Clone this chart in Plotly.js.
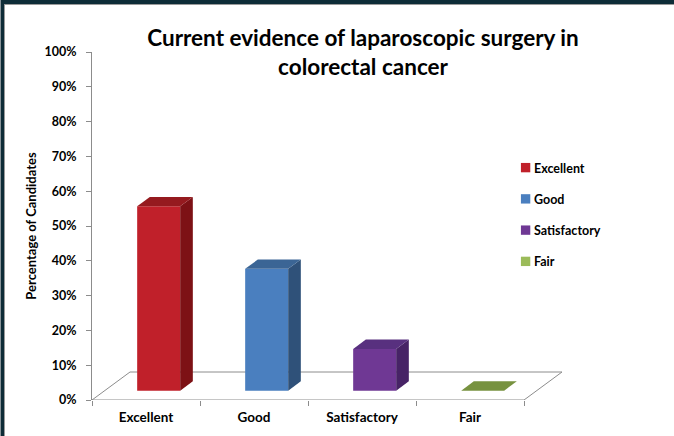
<!DOCTYPE html>
<html>
<head>
<meta charset="utf-8">
<script src="https://cdn.plot.ly/plotly-3.0.1.min.js"></script>
<style>
  html, body { margin: 0; padding: 0; background: #ffffff; }
  #wrap { position: relative; width: 674px; height: 436px; overflow: hidden; }
  #chart { position: absolute; left: 0; top: 0; width: 674px; height: 436px; }
  #bt { position: absolute; left: 0; top: 0; width: 674px; height: 4px; background: #0E2C37; }
  #bt2 { position: absolute; left: 0; top: 4px; width: 674px; height: 1px; background: #9a9a9a; }
  #bl { position: absolute; left: 0; top: 0; width: 1px; height: 436px; background: #8a9499; }
  #bl1 { position: absolute; left: 1px; top: 0; width: 3px; height: 436px; background: #0E2C37; }
  #bl2 { position: absolute; left: 4px; top: 4px; width: 1px; height: 432px; background: #9a9a9a; }
</style>
</head>
<body>
<div id="wrap">
  <div id="chart"></div>
  <div id="bt"></div><div id="bt2"></div>
  <div id="bl"></div><div id="bl1"></div><div id="bl2"></div>
</div>
<script>
// ---- data ----
var categories = ["Excellent", "Good", "Satisfactory", "Fair"];
var values = [53, 35, 12, 0];
var frontColors = ["#C0202A", "#4A7FBF", "#6F3894", "#9BBB59"];
var sideColors  = ["#7D1115", "#2F5179", "#472366", "#5E7530"];
var topColors   = ["#951A1F", "#3B6595", "#58307F", "#77923F"];
var yTickVals = [0, 10, 20, 30, 40, 50, 60, 70, 80, 90, 100];
var yTickText = ["0%", "10%", "20%", "30%", "40%", "50%", "60%", "70%", "80%", "90%", "100%"];

// ---- geometry (oblique 3D projection in data units) ----
var W = 674, H = 436;
var plotL = 92, plotR = 572, plotT = 52, plotB = 400;
var pxPerCat = 108;
var xMin = -0.5;
var xMax = xMin + (plotR - plotL) / pxPerCat;
var pxPerPct = (plotB - plotT) / 100;
var depthDX = 38 / pxPerCat;      // floor depth, x units
var depthDY = 28 / pxPerPct;      // floor depth, y units
var gDX = depthDX / 3, gDY = depthDY / 3;   // bar sits in middle third
var barW = 43 / pxPerCat;
var barOffset = gDX - barW / 2;
var nCat = categories.length;

var traces = [];
var fnt = "Lato, 'Open Sans', Arial, sans-serif";

// category axis labels / ticks (invisible carrier trace)
traces.push({
  type: "scatter", mode: "markers", x: categories, y: [0, 0, 0, 0],
  marker: { opacity: 0 }, hoverinfo: "skip", showlegend: false, xaxis: "x"
});

// front faces as real bars
for (var i = 0; i < nCat; i++) {
  traces.push({
    type: "bar", name: categories[i], x: [i], y: [values[i]], base: [gDY],
    width: barW, offset: barOffset, xaxis: "x2",
    marker: { color: frontColors[i], line: { width: 0 } },
    legendgroup: "g" + i, hoverinfo: "name+y"
  });
}
// side and top faces
for (var i = 0; i < nCat; i++) {
  var x0 = i + barOffset, x1 = x0 + barW;
  var b = gDY, t = gDY + values[i];
  if (values[i] > 0) {
    traces.push({
      type: "scatter", mode: "lines", fill: "toself", xaxis: "x2",
      x: [x1, x1, x1 + gDX, x1 + gDX, x1], y: [b, t, t + gDY, b + gDY, b],
      fillcolor: sideColors[i], line: { width: 0, color: sideColors[i] },
      hoverinfo: "skip", showlegend: false
    });
  }
  traces.push({
    type: "scatter", mode: "lines", fill: "toself", xaxis: "x2",
    x: [x0, x1, x1 + gDX, x0 + gDX, x0], y: [t, t, t + gDY, t + gDY, t],
    fillcolor: topColors[i], line: { width: 0, color: topColors[i] },
    hoverinfo: "skip", showlegend: false
  });
}

// floor outline as shapes beneath the bars
var floorLine = { color: "#8C8C8C", width: 1 };
var shapes = [
  { type: "line", xref: "x2", yref: "y", layer: "below", x0: xMin, y0: 0, x1: xMin + nCat, y1: 0, line: floorLine },
  { type: "line", xref: "x2", yref: "y", layer: "below", x0: xMin, y0: 0, x1: xMin + depthDX, y1: depthDY, line: floorLine },
  { type: "line", xref: "x2", yref: "y", layer: "below", x0: xMin + depthDX, y0: depthDY, x1: xMin + nCat + depthDX, y1: depthDY, line: floorLine },
  { type: "line", xref: "x2", yref: "y", layer: "below", x0: xMin + nCat, y0: 0, x1: xMin + nCat + depthDX, y1: depthDY, line: floorLine }
];

var layout = {
  width: W, height: H,
  paper_bgcolor: "#ffffff", plot_bgcolor: "rgba(0,0,0,0)",
  margin: { l: plotL, r: W - plotR, t: plotT, b: H - plotB, pad: 0, autoexpand: false },
  title: {
    text: "Current evidence of laparoscopic surgery in<br>colorectal cancer",
    font: { family: fnt, size: 22.5, color: "#000000", weight: "bold" },
    x: 363 / W, xanchor: "center", xref: "container",
    y: 1 - 46 / H, yanchor: "middle", yref: "container"
  },
  showlegend: true,
  legend: {
    x: (510 - plotL) / (plotR - plotL), y: (plotB - 153) / (plotB - plotT),
    xanchor: "left", yanchor: "top",
    font: { family: fnt, size: 12.5, color: "#000000", weight: "bold" },
    traceorder: "grouped", tracegroupgap: 12,
    itemwidth: 30, bgcolor: "rgba(0,0,0,0)"
  },
  xaxis: {
    type: "category", range: [xMin, xMax],
    tickson: "boundaries", ticks: "outside", ticklen: 5, tickcolor: "#8C8C8C",
    showline: false, showgrid: false, zeroline: false, ticklabelstandoff: 7,
    tickfont: { family: fnt, size: 13.5, color: "#000000", weight: "bold" },
    fixedrange: true, automargin: false
  },
  xaxis2: {
    overlaying: "x", range: [xMin, xMax], visible: false, fixedrange: true
  },
  yaxis: {
    range: [0, 100], tickvals: yTickVals, ticktext: yTickText,
    ticks: "outside", ticklen: 5, tickcolor: "#8C8C8C",
    showline: true, linecolor: "#8C8C8C", linewidth: 1,
    showgrid: false, zeroline: false, ticklabelstandoff: 7,
    tickfont: { family: fnt, size: 12.5, color: "#000000", weight: "bold" },
    title: { text: "Percentage of Candidates", standoff: 4,
      font: { family: fnt, size: 13, color: "#000000", weight: "bold" } },
    fixedrange: true, automargin: false
  },
  shapes: shapes,
  barmode: "overlay"
};

Plotly.newPlot("chart", traces, layout, { staticPlot: true, displayModeBar: false }).then(function (gd) {
  // tighten legend: smaller swatch close to the label, as in the reference
  var items = gd.querySelectorAll(".legend .traces");
  items.forEach(function (it) {
    var txt = it.querySelector(".legendtext");
    if (txt) txt.setAttribute("x", "24");
    var pts = it.querySelector(".legendpoints");
    if (pts) pts.setAttribute("transform", "scale(0.78)");
  });
});
</script>
</body>
</html>
